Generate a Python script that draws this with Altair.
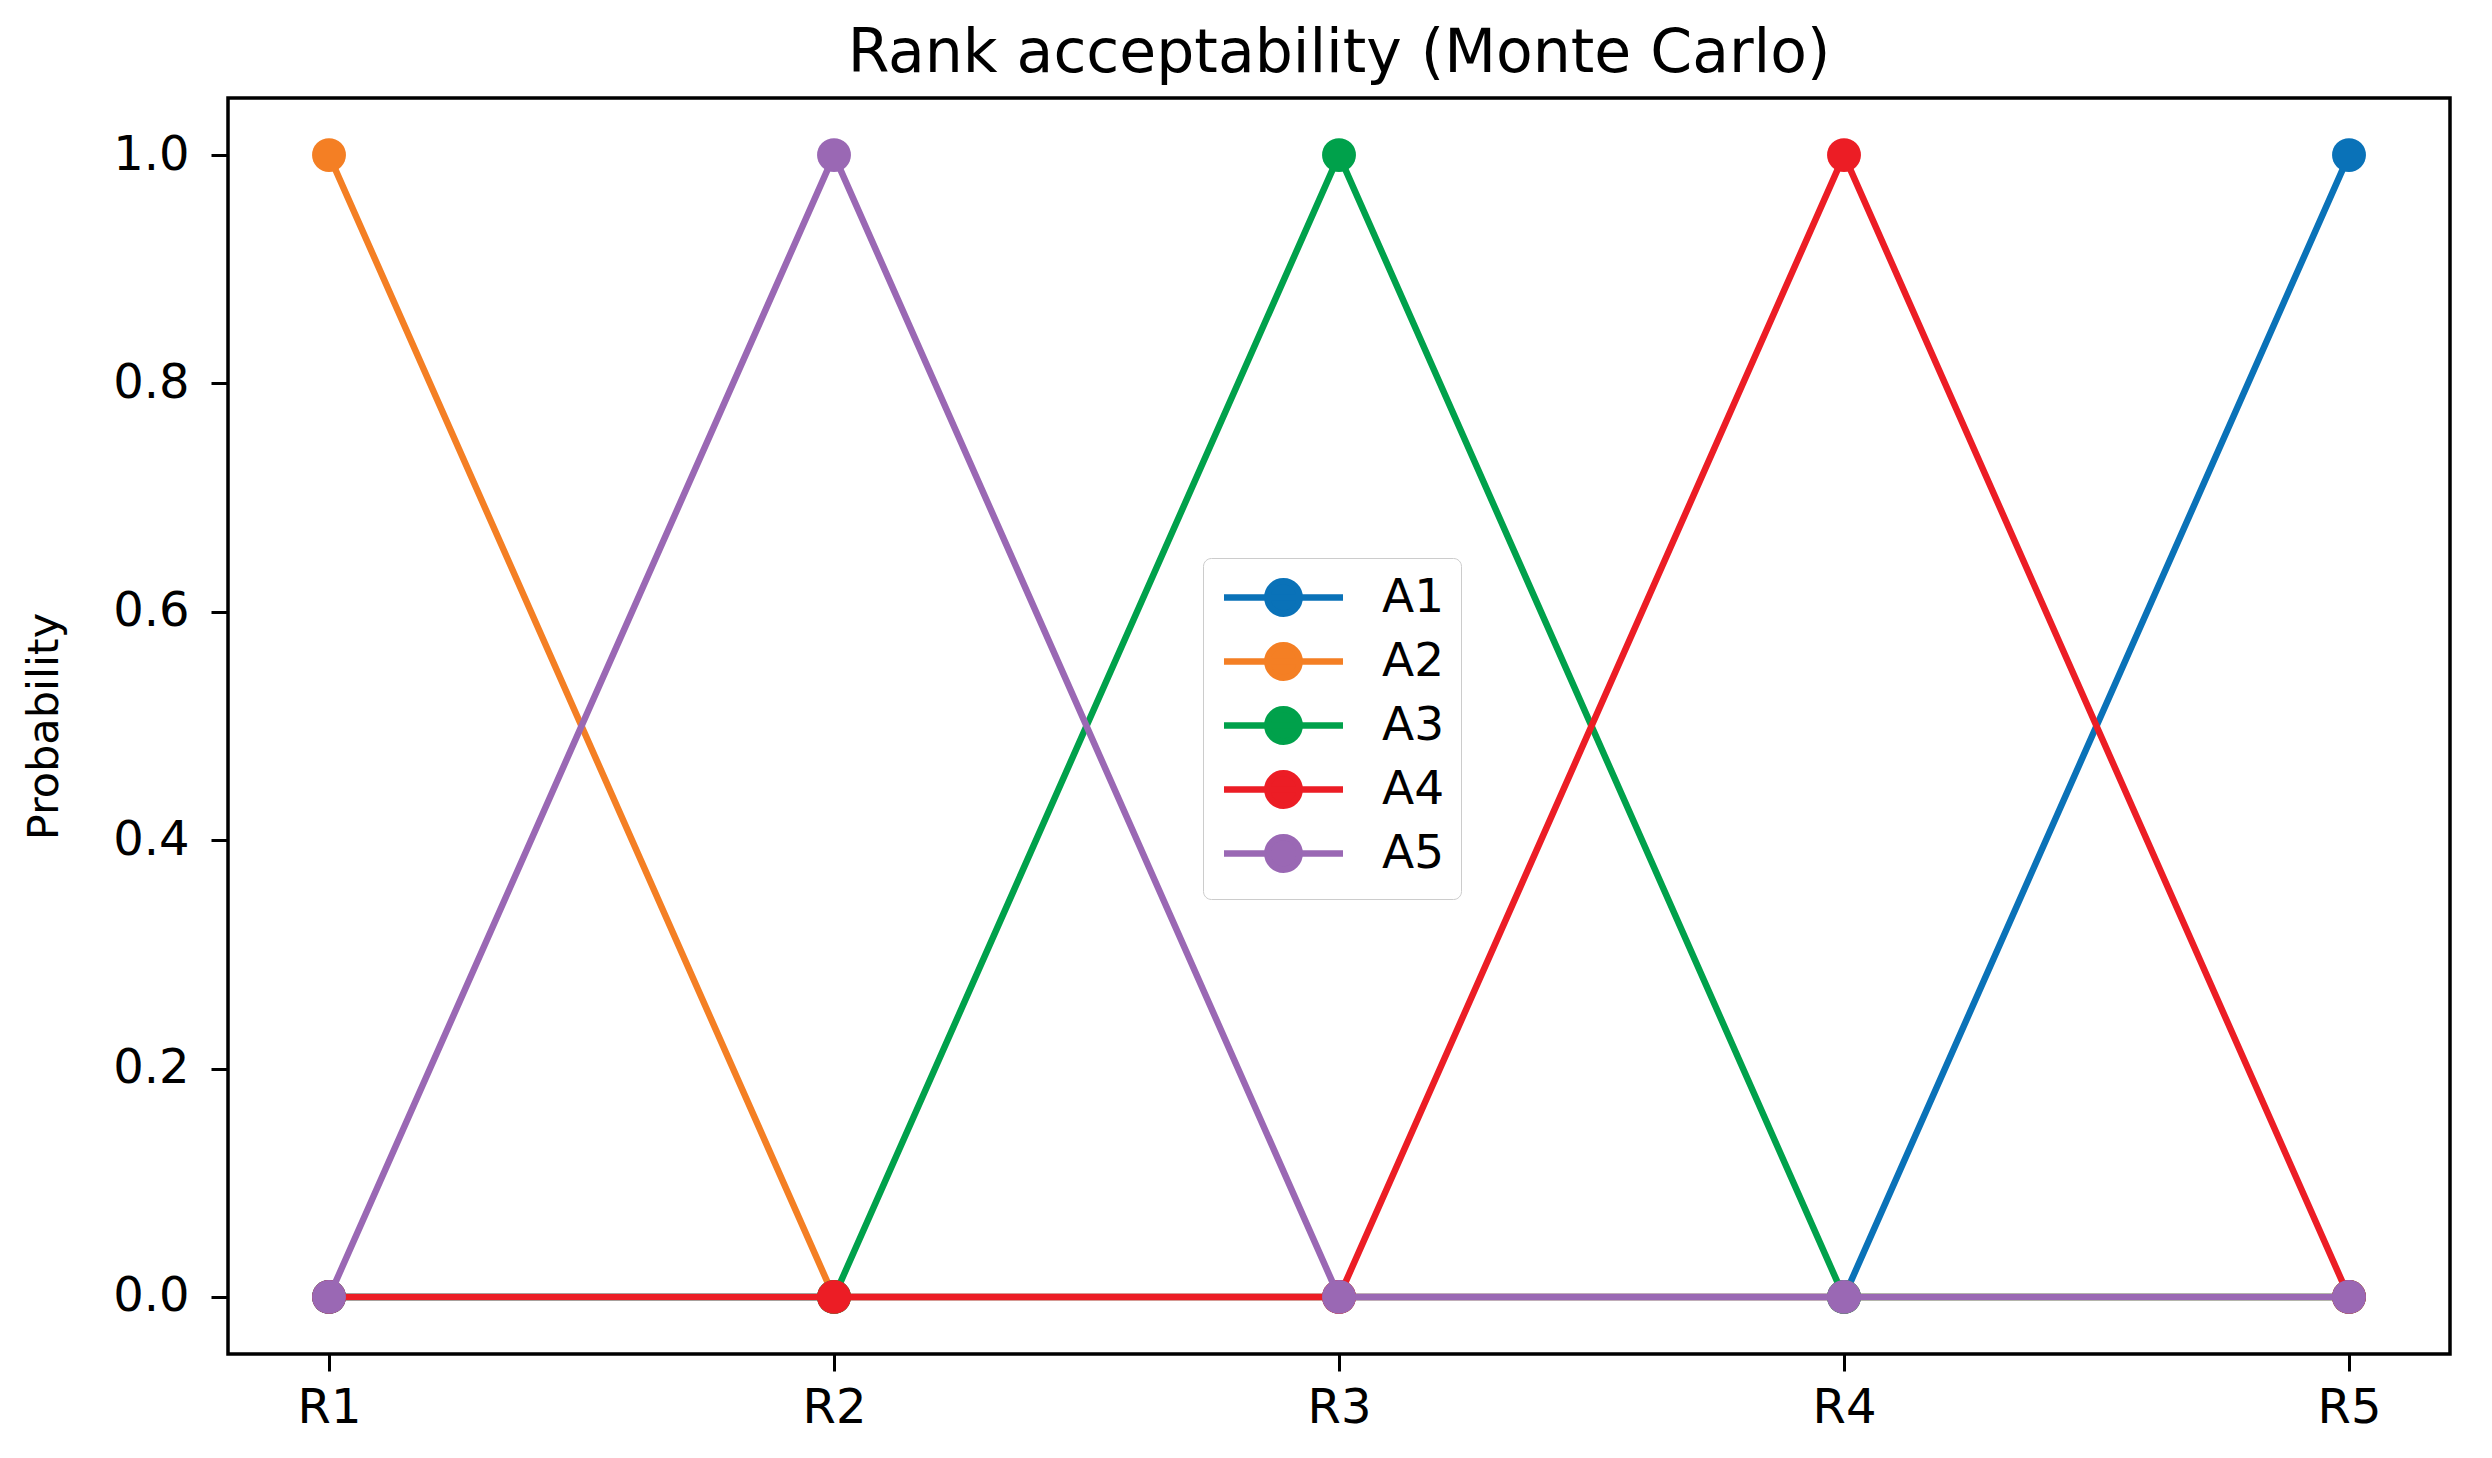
import altair as alt
import pandas as pd

ranks = ["R1", "R2", "R3", "R4", "R5"]
series_names = ["A1", "A2", "A3", "A4", "A5"]
A1 = [0.0, 0.0, 0.0, 0.0, 1.0]
A2 = [1.0, 0.0, 0.0, 0.0, 0.0]
A3 = [0.0, 0.0, 1.0, 0.0, 0.0]
A4 = [0.0, 0.0, 0.0, 1.0, 0.0]
A5 = [0.0, 1.0, 0.0, 0.0, 0.0]
colors = ["#0a72b8", "#f47f24", "#00a14b", "#ec1d25", "#9a68b4"]
y_ticks = [0.0, 0.2, 0.4, 0.6, 0.8, 1.0]

values = {"A1": A1, "A2": A2, "A3": A3, "A4": A4, "A5": A5}
rows = []
for s in series_names:
    for r, v in zip(ranks, values[s]):
        rows.append({"rank": r, "series": s, "prob": v})
df = pd.DataFrame(rows)

FONT = "DejaVu Sans"
legend_path = "M-3.5,0L3.5,0M0.95,0A0.95,0.95,0,1,1,-0.95,0A0.95,0.95,0,1,1,0.95,0Z"

color_scale = alt.Scale(domain=series_names, range=colors)
x_enc = alt.X(
    "rank:N",
    sort=ranks,
    scale=alt.Scale(type="point", domain=ranks, padding=0.2),
    axis=alt.Axis(title=None, labelAngle=0, tickSize=17, tickWidth=3, tickColor="black",
                  labelPadding=13, labelFontSize=48, labelColor="black", labelFont=FONT,
                  domain=False, grid=False),
)
y_enc = alt.Y(
    "prob:Q",
    scale=alt.Scale(domain=[-0.05, 1.05], nice=False, zero=False),
    axis=alt.Axis(title="Probability", values=y_ticks, format=".1f", tickSize=17, tickWidth=3,
                  tickColor="black", labelPadding=22, labelFontSize=48, labelColor="black",
                  labelFont=FONT, titleFont=FONT, titleFontSize=43, titleFontWeight="normal",
                  titleColor="black", titlePadding=46, domain=False, grid=False),
)
color_enc = alt.Color(
    "series:N",
    scale=color_scale,
    legend=alt.Legend(
        title=None, orient="none", legendX=975, legendY=460,
        symbolType=legend_path, symbolSize=1156, symbolStrokeWidth=6.5,
        symbolOffset=41, labelOffset=75, labelFontSize=47, labelFont=FONT,
        labelColor="black", rowPadding=5, padding=16, symbolOpacity=1,
        strokeColor="#cccccc", fillColor="white", cornerRadius=8,
    ),
)

layers = []
for s in series_names:
    layers.append(
        alt.Chart(df)
        .transform_filter(alt.datum.series == s)
        .mark_line(strokeWidth=6.5, point=alt.OverlayMarkDef(size=1150, filled=True, opacity=1))
        .encode(x=x_enc, y=y_enc, color=color_enc)
    )

chart = (
    alt.layer(*layers)
    .properties(
        width=2222,
        height=1256,
        title=alt.TitleParams("Rank acceptability (Monte Carlo)", font=FONT, fontSize=60,
                              fontWeight="normal", color="black", anchor="middle",
                              baseline="alphabetic", offset=-34),
        autosize=alt.AutoSizeParams(type="none"),
        padding={"left": 228, "top": 98, "right": 42, "bottom": 104},
        background="white",
    )
    .configure_view(stroke="black", strokeWidth=3.5)
)

chart.save("out.html", embed_options={"renderer": "svg", "actions": False})
